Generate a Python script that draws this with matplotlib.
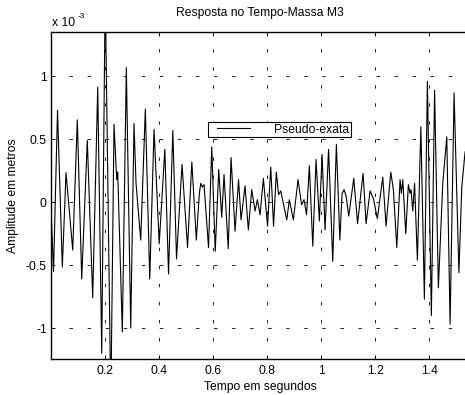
import numpy as np
import matplotlib
matplotlib.use('Agg')
import matplotlib.pyplot as plt
from matplotlib.ticker import FuncFormatter, FixedLocator
from matplotlib.legend_handler import HandlerLine2D

plt.rcParams['font.family'] = ['Liberation Sans', 'DejaVu Sans']
plt.rcParams['lines.scale_dashes'] = False

# ---- data ----
time_s = np.array([
    0.000, 0.0093, 0.0241, 0.0419, 0.0556, 0.0804, 0.0974, 0.1137, 0.1344, 0.1544,
    0.1730, 0.1878, 0.2007, 0.2215, 0.2333, 0.2433, 0.2470, 0.2641, 0.2789, 0.2952,
    0.3074, 0.3148, 0.3322, 0.3493, 0.3656, 0.3815, 0.4007, 0.4215, 0.4352, 0.4511,
    0.4648, 0.4852, 0.5056, 0.5215, 0.5381, 0.5493, 0.5544, 0.5604, 0.5667, 0.5833,
    0.5952, 0.6081, 0.6211, 0.6322, 0.6407, 0.6563, 0.6667, 0.6815, 0.6944, 0.7037,
    0.7185, 0.7307, 0.7433, 0.7556, 0.7641, 0.7741, 0.7863, 0.8019, 0.8137, 0.8241,
    0.8344, 0.8426, 0.8507, 0.8730, 0.8826, 0.8974, 0.9148, 0.9278, 0.9370, 0.9463,
    0.9567, 0.9693, 0.9815, 0.9937, 1.0037, 1.0148, 1.0278, 1.0433, 1.0567, 1.0696,
    1.0778, 1.0852, 1.0926, 1.1026, 1.1211, 1.1352, 1.1556, 1.1667, 1.1815, 1.1937,
    1.2085, 1.2285, 1.2407, 1.2581, 1.2678, 1.2804, 1.2926, 1.2974, 1.3026, 1.3137,
    1.3233, 1.3296, 1.3333, 1.3396, 1.3463, 1.3567, 1.3696, 1.3826, 1.3937, 1.4085,
    1.4204, 1.4344, 1.4507, 1.4656, 1.4778, 1.4926, 1.5104, 1.5211, 1.5333,
])
amplitude_e3 = np.array([
    -0.05, -0.55, 0.73, -0.515, 0.235, -0.38, 0.655, -0.61, 0.49, -0.76,
    0.915, -1.20, 1.70, -1.60, 0.62, 0.18, 0.24, -1.03, 1.07, -1.00,
    0.625, 0.15, -0.30, 0.74, -0.61, 0.58, -0.33, 0.42, -0.57, 0.57,
    -0.45, 0.30, -0.36, 0.32, -0.30, 0.07, 0.15, 0.12, 0.14, -0.36,
    0.44, -0.39, 0.26, -0.12, 0.22, -0.37, 0.355, -0.23, 0.18, -0.14,
    0.13, -0.22, 0.10, -0.07, 0.02, -0.10, 0.19, -0.19, 0.28, -0.19,
    0.24, 0.06, 0.09, -0.14, 0.02, -0.14, 0.18, -0.02, 0.02, -0.10,
    0.29, -0.35, 0.34, -0.15, 0.38, -0.22, 0.42, -0.47, 0.46, -0.30,
    0.07, 0.10, 0.05, -0.11, 0.19, -0.17, 0.23, -0.17, 0.09, 0.03,
    -0.13, 0.20, -0.19, 0.24, 0.10, -0.36, 0.18, 0.07, 0.18, -0.25,
    0.14, 0.07, 0.10, -0.07, 0.15, -0.46, 0.60, -0.77, 0.96, -0.90,
    0.89, -0.68, 0.15, 0.52, -0.97, 0.87, -0.56, 0.12, 0.40,
])
amplitude_m = amplitude_e3 * 1e-3

x_ticks = [0.2, 0.4, 0.6, 0.8, 1.0, 1.2, 1.4]
y_ticks_e3 = [-1, -0.5, 0, 0.5, 1]
x_limits = (0.0, 1.548)
y_limits_e3 = (-1.242, 1.353)

title_text = 'Resposta no Tempo-Massa M3'
x_label = 'Tempo em segundos'
y_label = 'Amplitude em metros'
series_label = 'Pseudo-exata'

FS = 8.7

fig = plt.figure(figsize=(4.65, 3.95), dpi=100)
ax = fig.add_axes([0.1097, 0.0924, 0.899, 0.8266])

line, = ax.plot(time_s, amplitude_m, color='k', lw=0.8, label=series_label)

ax.set_xlim(*x_limits)
ax.set_ylim(y_limits_e3[0] * 1e-3, y_limits_e3[1] * 1e-3)
ax.xaxis.set_major_locator(FixedLocator(x_ticks))
ax.yaxis.set_major_locator(FixedLocator([v * 1e-3 for v in y_ticks_e3]))
ax.xaxis.set_major_formatter(FuncFormatter(lambda v, p: '%g' % round(v, 6)))
ax.yaxis.set_major_formatter(FuncFormatter(lambda v, p: '%g' % round(v * 1e3, 6)))

ax.grid(True, color='k', lw=0.6, linestyle=(0, (2.5, 10.5)))
ax.tick_params(direction='in', top=True, right=True, length=3, width=0.6,
               labelsize=FS, colors='k', pad=3)
ax.tick_params(axis='x', pad=5)
for sp in ax.spines.values():
    sp.set_linewidth(1.0)
    sp.set_color('k')

ax.set_title(title_text, fontsize=FS, pad=11.5)
ax.set_xlabel(x_label, fontsize=FS)
ax.xaxis.set_label_coords(0.5, -0.068)
ax.set_ylabel(y_label, fontsize=FS)
ax.yaxis.set_label_coords(-0.0766, 0.5)

ax.text(0.0024, 1.0184, 'x 10', transform=ax.transAxes, fontsize=FS,
        ha='left', va='baseline')
ax.text(0.064, 1.042, '-3', transform=ax.transAxes, fontsize=6,
        ha='left', va='baseline')

leg = ax.legend(loc='upper left', bbox_to_anchor=(0.376, 0.725), borderaxespad=0,
                fancybox=False, framealpha=1, edgecolor='k', fontsize=FS,
                handlelength=3.34, handletextpad=1.95, borderpad=0.15,
                handler_map={line: HandlerLine2D(xpad=0.58)})
leg.get_frame().set_linewidth(0.8)

fig.savefig('out.png', dpi=100)
